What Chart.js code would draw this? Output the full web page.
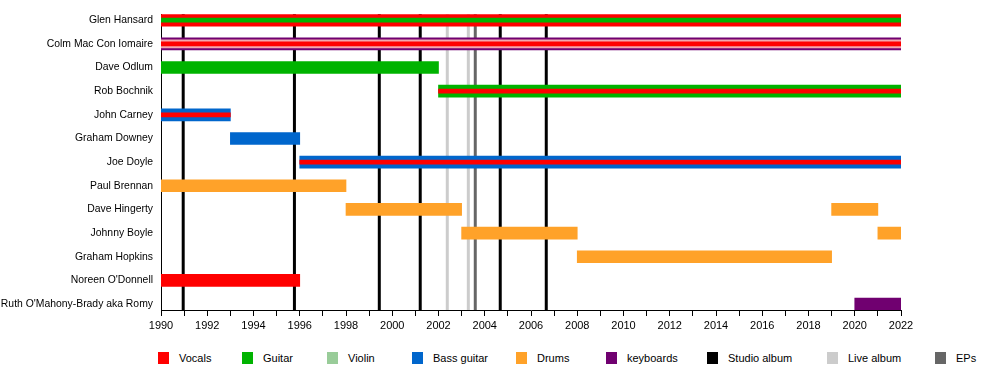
<!DOCTYPE html>
<html>
<head>
<meta charset="utf-8">
<title>The Frames – members timeline</title>
<script src="https://cdn.jsdelivr.net/npm/chart.js@4"></script>
<style>
  body { margin: 0; background: #fff; font-family: "Liberation Sans", Arial, sans-serif; }
  #wrap { position: relative; width: 1000px; height: 370px; overflow: hidden; }
  #chartBox { position: absolute; left: 0; top: 0; width: 1000px; height: 340px; }
  #legend { position: absolute; left: 0; top: 352px; width: 1000px; height: 14px; }
  .item { position: absolute; top: 0; font-size: 11px; line-height: 12px; color: #000; white-space: nowrap; }
  .swatch { display: inline-block; width: 11px; height: 12px; vertical-align: top; margin-right: 10px; }
</style>
</head>
<body>
<div id="wrap">
  <div id="chartBox"><canvas id="timeline"></canvas></div>
  <div id="legend"></div>
</div>
<script>
// Band members, top to bottom
const members = [
  'Glen Hansard', 'Colm Mac Con Iomaire', 'Dave Odlum', 'Rob Bochnik', 'John Carney',
  'Graham Downey', 'Joe Doyle', 'Paul Brennan', 'Dave Hingerty', 'Johnny Boyle',
  'Graham Hopkins', "Noreen O'Donnell", "Ruth O'Mahony-Brady aka Romy"
];
const instruments = ['Vocals', 'Guitar', 'Violin', 'Bass guitar', 'Drums', 'keyboards'];
const releaseTypes = ['Studio album', 'Live album', 'EPs'];

// Main role of each stint: [member, from, to, role]
const mainSpans = [
  ['Glen Hansard', 1990, 2022, 'Vocals'],
  ['Colm Mac Con Iomaire', 1990, 2022, 'keyboards'],
  ['Dave Odlum', 1990, 2002, 'Guitar'],
  ['Rob Bochnik', 2002, 2022, 'Guitar'],
  ['John Carney', 1990, 1993, 'Bass guitar'],
  ['Graham Downey', 1993, 1996, 'Bass guitar'],
  ['Joe Doyle', 1996, 2022, 'Bass guitar'],
  ['Paul Brennan', 1990, 1998, 'Drums'],
  ['Dave Hingerty', 1998, 2003, 'Drums'],
  ['Dave Hingerty', 2019, 2021, 'Drums'],
  ['Johnny Boyle', 2003, 2008, 'Drums'],
  ['Johnny Boyle', 2021, 2022, 'Drums'],
  ['Graham Hopkins', 2008, 2019, 'Drums'],
  ["Noreen O'Donnell", 1990, 1996, 'Vocals'],
  ["Ruth O'Mahony-Brady aka Romy", 2020, 2022, 'keyboards']
];
// Middle layer (only Colm's bar has one)
const middleSpans = [
  ['Colm Mac Con Iomaire', 1990, 2022]
];
// Thin centre stripe for a second role
const stripeSpans = [
  ['Glen Hansard', 1990, 2022, 'Guitar'],
  ['Colm Mac Con Iomaire', 1990, 2022, 'Vocals'],
  ['Rob Bochnik', 2002, 2022, 'Vocals'],
  ['John Carney', 1990, 1993, 'Vocals'],
  ['Joe Doyle', 1996, 2022, 'Vocals']
];

// Releases (decimal years)
const studioAlbums = [1990.96, 1995.77, 1999.44, 2001.21, 2004.67, 2006.66];
const liveAlbums = [2002.38, 2003.29];
const eps = [2003.59];

// Labelled years on the time axis
const yearLabels = [1990, 1992, 1994, 1996, 1998, 2000, 2002, 2004, 2006, 2008, 2010,
  2012, 2014, 2016, 2018, 2020, 2022];

const colors = {
  'Vocals': '#ff0000',
  'Guitar': '#00b300',
  'Violin': '#99cc99',
  'Bass guitar': '#0066cc',
  'Drums': '#ffa229',
  'keyboards': '#700070',
  'Studio album': '#000000',
  'Live album': '#cccccc',
  'EPs': '#666666'
};
const middleColor = '#f4a6ae';
const axisFont = { family: '"Liberation Sans", Arial, sans-serif', size: 11 };
const nameFont = { family: '"Liberation Sans", Arial, sans-serif', size: 10.4 };

function toBars(spans) {
  return spans.map(s => ({ x: [s[1], s[2]], y: members.indexOf(s[0]) }));
}

// Release lines go under the bars
const releaseLines = {
  id: 'releaseLines',
  beforeDatasetsDraw(chart) {
    const { ctx, chartArea, scales: { x } } = chart;
    const groups = [
      [studioAlbums, colors['Studio album']],
      [liveAlbums, colors['Live album']],
      [eps, colors['EPs']]
    ];
    ctx.save();
    ctx.lineWidth = 3;
    groups.forEach(([years, color]) => {
      ctx.strokeStyle = color;
      years.forEach(year => {
        const px = x.getPixelForValue(year);
        ctx.beginPath();
        ctx.moveTo(px, chartArea.top);
        ctx.lineTo(px, chartArea.bottom);
        ctx.stroke();
      });
    });
    ctx.restore();
  }
};

new Chart(document.getElementById('timeline'), {
  type: 'bar',
  data: {
    datasets: [
      {
        label: 'stripe',
        data: toBars(stripeSpans),
        backgroundColor: stripeSpans.map(s => colors[s[3]]),
        barThickness: 4,
        grouped: false,
        order: 1
      },
      {
        label: 'middle',
        data: toBars(middleSpans),
        backgroundColor: middleColor,
        barThickness: 8,
        grouped: false,
        order: 2
      },
      {
        label: 'main',
        data: toBars(mainSpans),
        backgroundColor: mainSpans.map(s => colors[s[3]]),
        barThickness: 12,
        grouped: false,
        order: 3
      }
    ]
  },
  options: {
    indexAxis: 'y',
    responsive: true,
    maintainAspectRatio: false,
    animation: false,
    layout: { padding: { top: 10, right: 99, left: 0, bottom: 0 } },
    plugins: {
      legend: { display: false },
      tooltip: { enabled: false }
    },
    scales: {
      x: {
        type: 'linear',
        position: 'bottom',
        min: 1990,
        max: 2022,
        ticks: {
          stepSize: 1,
          autoSkip: false,
          maxRotation: 0,
          color: '#000',
          font: axisFont,
          padding: 3,
          callback: v => yearLabels.includes(v) ? String(v) : ''
        },
        grid: { drawOnChartArea: false, color: '#000', tickLength: 6 },
        border: { color: '#000', width: 1 },
        afterFit: scale => { scale.height = 30; }
      },
      y: {
        type: 'linear',
        reverse: true,
        offset: false,
        min: -0.25,
        max: 12.25,
        afterBuildTicks: scale => { scale.ticks = members.map((m, i) => ({ value: i })); },
        ticks: {
          autoSkip: false,
          padding: 8,
          color: '#000',
          font: nameFont,
          callback: v => members[v]
        },
        grid: { display: false, drawTicks: false, offset: false },
        border: { color: '#000', width: 1 },
        afterFit: scale => { scale.width = 161; }
      }
    }
  },
  plugins: [releaseLines]
});

// Legend below the chart
const legendItems = instruments.concat(releaseTypes);
const legendLeft = [158, 242, 327, 412, 516, 606, 707, 827, 935];
const legendDiv = document.getElementById('legend');
legendItems.forEach((name, i) => {
  const item = document.createElement('div');
  item.className = 'item';
  item.style.left = legendLeft[i] + 'px';
  const sw = document.createElement('span');
  sw.className = 'swatch';
  sw.style.background = colors[name];
  item.appendChild(sw);
  item.appendChild(document.createTextNode(name));
  legendDiv.appendChild(item);
});
</script>
</body>
</html>
